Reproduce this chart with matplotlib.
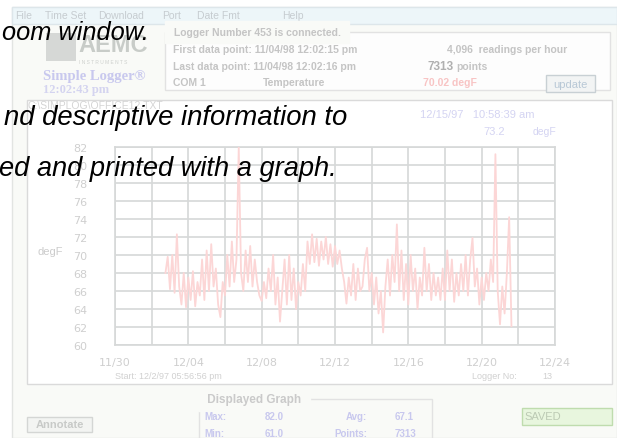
import numpy as np
import matplotlib
matplotlib.use("Agg")
import matplotlib.pyplot as plt
from matplotlib.patches import Rectangle

W, H = 617, 439

# temperature readings (degF), one every 3 hours from the start of logging
start_day = 2.75      # 12/2/97 05:56 pm, counted in days after 11/30
step_day = 0.125
temps = [
    68.0, 69.8, 66.2, 70.0, 65.8, 72.3, 66.5, 64.5, 68.0, 64.2,
    67.5, 65.0, 68.2, 64.3, 67.0, 65.5, 69.5, 65.0, 70.5, 66.0,
    71.2, 66.5, 68.5, 64.5, 63.1, 67.0, 65.5, 70.0, 66.5, 71.5,
    67.0, 69.5, 82.0, 68.0, 66.0, 70.5, 67.0, 71.0, 66.5, 69.5,
    67.0, 65.5, 64.9, 67.0, 65.2, 68.5, 66.0, 70.0, 64.5, 67.5,
    62.6, 66.0, 69.5, 64.5, 70.0, 65.0, 68.5, 64.0, 67.0, 65.5,
    69.0, 66.0, 71.5, 69.0, 72.3, 69.2, 71.8, 68.8, 71.5, 69.5,
    72.0, 69.0, 71.2, 68.7, 71.0, 69.0, 70.5, 68.5, 67.0, 64.6,
    67.5, 65.5, 69.0, 65.0, 68.5, 66.0, 66.5, 69.5, 70.8, 66.0,
    68.0, 64.5, 67.5, 63.5, 66.0, 61.4, 66.5, 69.5, 65.5, 70.0,
    67.0, 73.4, 66.0, 70.5, 65.0, 69.0, 64.5, 70.0, 66.0, 68.5,
    64.0, 67.5, 65.5, 70.8, 66.0, 69.0, 65.0, 68.0, 65.5, 67.5,
    65.0, 68.5, 65.0, 70.5, 66.0, 69.5, 64.8, 68.0, 65.5, 69.0,
    66.0, 70.0, 65.5, 69.5, 71.9, 66.5, 68.5, 64.5, 67.5, 65.0,
    68.0, 66.0, 69.5, 67.0, 81.2, 66.0, 62.3, 66.5, 63.5, 68.0,
    74.2, 62.1,
]

x_grid = [0, 2, 4, 6, 8, 10, 12, 14, 16, 18, 20, 22, 24]
x_labels = ["11/30", "", "12/04", "", "12/08", "", "12/12", "", "12/16", "",
            "12/20", "", "12/24"]
y_ticks = [60, 62, 64, 66, 68, 70, 72, 74, 76, 78, 80, 82]

menu_items = [("File", 15), ("Time Set", 45), ("Download", 98), ("Port", 162),
              ("Date Fmt", 197), ("Help", 282)]

GRAY = "#c4c4c4"
LAV = "#c8c8ee"


def fx(px):
    return px / W


def fy(py):
    return 1 - py / H


def put(fig, px, py, s, **kw):
    kw.setdefault("color", GRAY)
    kw.setdefault("fontsize", 7.5)
    kw.setdefault("va", "center")
    kw.setdefault("family", "Liberation Sans")
    fig.text(fx(px), fy(py), s, **kw)


def box(fig, x0, y0, x1, y1, fc="none", ec="#dcdcdc", lw=1.0):
    fig.add_artist(Rectangle((fx(x0), fy(y1)), fx(x1) - fx(x0), fy(y0) - fy(y1),
                             transform=fig.transFigure, facecolor=fc,
                             edgecolor=ec, linewidth=lw, zorder=0.5))


fig = plt.figure(figsize=(W / 100, H / 100), dpi=100)
fig.patch.set_facecolor("#ffffff")

# window and menu bar
box(fig, 12, 8, 617, 439, fc="#f9faf7", ec="#e2e4e2")
box(fig, 12, 8, 617, 25, fc="#edf6f9", ec="#dde6ea")
for name, px in menu_items:
    put(fig, px, 16, name, color="#c6ccd0", fontsize=7.5)

# logo
box(fig, 46, 34, 76, 62, fc="#d6d8d6", ec="none")
put(fig, 78, 46, "AEMC", fontsize=17, weight="bold", color="#c8ccc8")
put(fig, 79, 63, "I N S T R U M E N T S", fontsize=3.5, color="#cdd0cd")
put(fig, 43, 77, "Simple Logger\u00ae", fontsize=10.5, weight="bold", color=LAV,
    family="Liberation Serif")
put(fig, 43, 90, "12:02:43 pm", fontsize=9, weight="bold", color="#d4d4f0",
    family="Liberation Serif")

# logger info group
box(fig, 165, 33, 610, 91, fc="#fdfdfd", ec="#e2e2e2")
put(fig, 171, 33, " Logger Number 453 is connected. ", fontsize=7.5, weight="bold",
    backgroundcolor="#f9faf7")
put(fig, 173, 50, "First data point: 11/04/98 12:02:15 pm", weight="bold")
put(fig, 173, 67, "Last data point: 11/04/98 12:02:16 pm", weight="bold")
put(fig, 173, 83, "COM 1", weight="bold")
put(fig, 263, 83, "Temperature", weight="bold")
put(fig, 447, 50, "4,096  readings per hour", weight="bold")
put(fig, 427, 67, "7313", weight="bold", color="#b0b0b0", fontsize=8.5)
put(fig, 456, 67, "points", weight="bold")
put(fig, 423, 83, "70.02 degF", weight="bold", color="#f8c4c4")
box(fig, 546, 76, 595, 93, fc="#f2f4f4", ec="#c8d0d4")
put(fig, 570.5, 84.5, "update", ha="center", color="#b8c8d6", fontsize=8)

# graph panel
box(fig, 27, 101, 612, 385, fc="#ffffff", ec="#dadada")
put(fig, 28, 106, "C:\\SIMPLOG\\OFFICE12.TXT", color="#d4d4d4", fontsize=7.5)
put(fig, 420, 115, "12/15/97   10:58:39 am", color="#d4d4f2", fontsize=8)
put(fig, 483, 132, "73.2", color="#d4d4f2", fontsize=8)
put(fig, 533, 132, "degF", color="#d4d4f2", fontsize=7.5)
put(fig, 37, 252, "degF", color="#cccccc", fontsize=8)
put(fig, 115, 377, "Start: 12/2/97 05:56:56 pm", color="#d0d0d0", fontsize=6.5)
put(fig, 472, 377, "Logger No:", color="#d0d0d0", fontsize=6.5)
put(fig, 542, 377, "13", color="#d0d0d0", fontsize=6.5)

ax = fig.add_axes([fx(115), fy(346), fx(555) - fx(115), fy(148) - fy(346)])
ax.set_zorder(2)
ax.patch.set_alpha(0)
days = start_day + step_day * np.arange(len(temps))
ax.plot(days, temps, color="#fcd6d6", lw=1.3, zorder=3)
ax.set_xlim(0, 24)
ax.set_ylim(60, 82)
ax.set_xticks(x_grid)
ax.set_xticklabels(x_labels)
ax.set_yticks(y_ticks)
ax.grid(True, color="#d6d8d8", lw=1.2, zorder=0)
ax.set_axisbelow(True)
ax.tick_params(length=0, labelsize=8, labelcolor="#cfcfcf", pad=9)
ax.tick_params(axis="y", pad=20)
for sp in ax.spines.values():
    sp.set_color("#d6d8d8")
    sp.set_linewidth(1.2)

# displayed graph group
box(fig, 199, 400, 432, 445, fc="none", ec="#e2e2e2")
put(fig, 204, 400, " Displayed Graph ", weight="bold", fontsize=8.5, color="#cacaca",
    backgroundcolor="#f9faf7")
put(fig, 204, 417, "Max:", color=LAV, weight="bold", fontsize=7)
put(fig, 265, 417, "82.0", color=LAV, weight="bold", fontsize=7)
put(fig, 204, 434, "Min:", color=LAV, weight="bold", fontsize=7)
put(fig, 265, 434, "61.0", color=LAV, weight="bold", fontsize=7)
put(fig, 367, 417, "Avg:", color=LAV, weight="bold", fontsize=7, ha="right")
put(fig, 395, 417, "67.1", color=LAV, weight="bold", fontsize=7)
put(fig, 367, 434, "Points:", color=LAV, weight="bold", fontsize=7, ha="right")
put(fig, 395, 434, "7313", color=LAV, weight="bold", fontsize=7)

# buttons
box(fig, 27, 418, 92, 433, fc="#f3f4f2", ec="#d4d6d4")
put(fig, 59.5, 425.5, "Annotate", ha="center", weight="bold", fontsize=8, color="#c8cac8")
box(fig, 522, 409, 612, 426, fc="#e8f6de", ec="#bfdcae")
put(fig, 524, 417.5, "SAVED", color="#bccab4", fontsize=8)

# caption fragments over the screenshot
cap = dict(color="black", style="italic", va="baseline", ha="right", zorder=5)
put(fig, 149, 40, "oom window.", fontsize=18.3, **cap)
put(fig, 347, 125, "nd descriptive information to", fontsize=19.8, **cap)
put(fig, 337, 176, "ed and printed with a graph.", fontsize=19.6, **cap)

fig.savefig("out.png", dpi=100)
